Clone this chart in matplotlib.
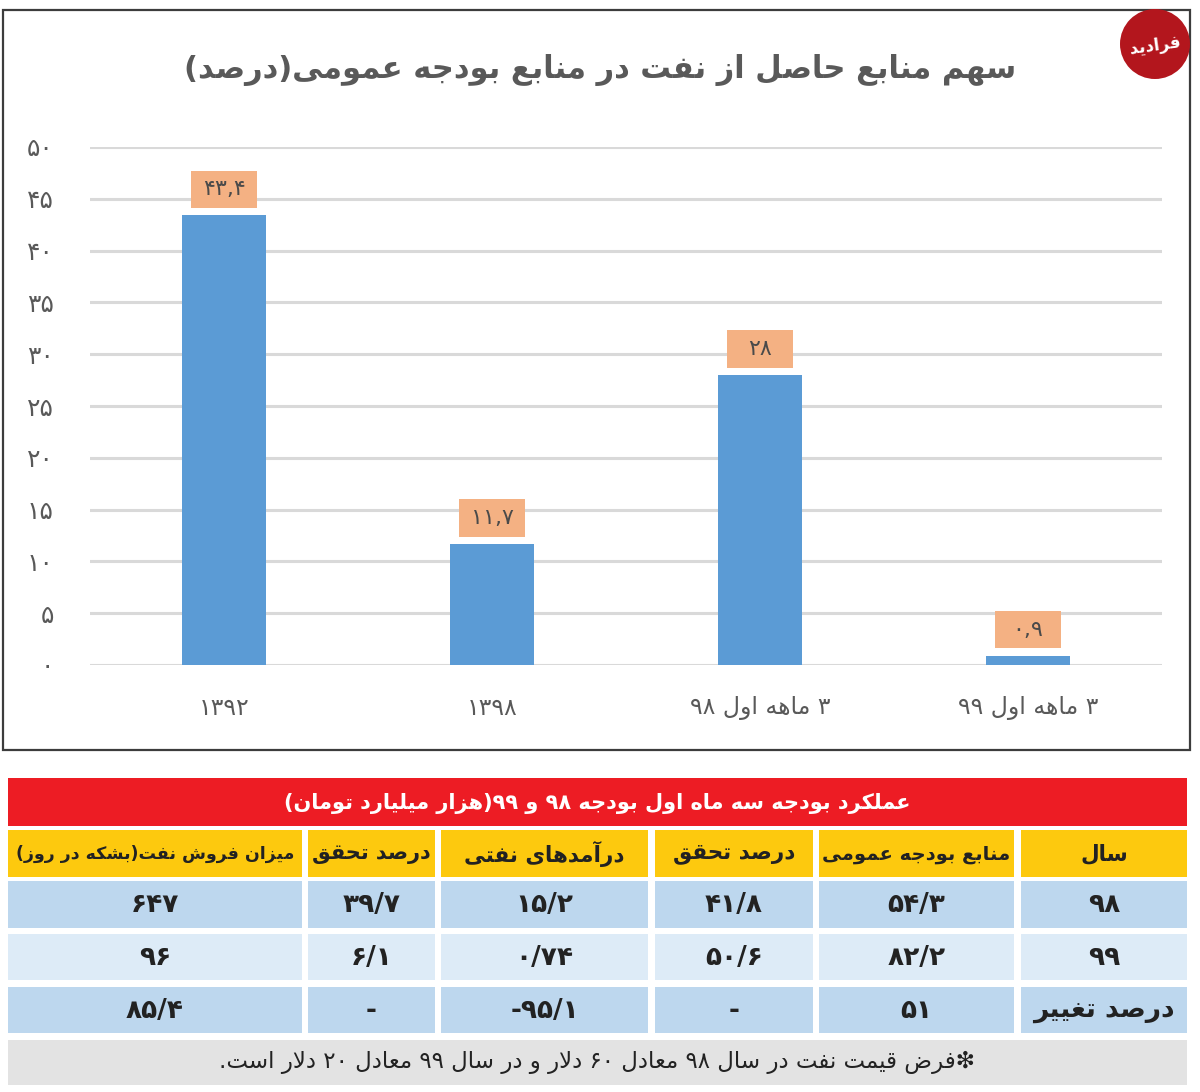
import re
import matplotlib
matplotlib.use("Agg")
import matplotlib.pyplot as plt
from matplotlib.patches import Rectangle, Circle

plt.rcParams['font.family'] = ['DejaVu Sans']

# ---- data ----
title = "سهم منابع حاصل از نفت در منابع بودجه عمومی(درصد)"
periods = ["۱۳۹۲", "۱۳۹۸", "۳ ماهه اول ۹۸", "۳ ماهه اول ۹۹"]
oil_share = [43.4, 11.7, 28, 0.9]

table_title = "عملکرد بودجه سه ماه اول بودجه ۹۸ و ۹۹(هزار میلیارد تومان)"
# columns listed right to left, as in the picture
col_names = ["سال", "منابع بودجه عمومی", "درصد تحقق", "درآمدهای نفتی", "درصد تحقق",
             "میزان فروش نفت(بشکه در روز)"]
row_names = ["۹۸", "۹۹", "درصد تغییر"]
budget = [54.3, 82.2, 51]
budget_pct = [41.8, 50.6, None]
oil_income = [15.2, 0.74, -95.1]
oil_income_pct = [39.7, 6.1, None]
oil_sales = [647, 96, 85.4]
footnote = "❇فرض قیمت نفت در سال ۹۸ معادل ۶۰ دلار و در سال ۹۹ معادل ۲۰ دلار است."

# ---- minimal arabic shaping + rtl ordering (no reshaper lib available) ----
def dual(b):
    return (b, b + 1, b + 2, b + 3)

FORMS = {
    '\u0622': (0xFE81, 0xFE82, None, None), '\u0627': (0xFE8D, 0xFE8E, None, None),
    '\u0628': dual(0xFE8F), '\u067E': dual(0xFB56), '\u062A': dual(0xFE95),
    '\u062B': dual(0xFE99), '\u062C': dual(0xFE9D), '\u0686': dual(0xFB7A),
    '\u062D': dual(0xFEA1), '\u062E': dual(0xFEA5),
    '\u062F': (0xFEA9, 0xFEAA, None, None), '\u0630': (0xFEAB, 0xFEAC, None, None),
    '\u0631': (0xFEAD, 0xFEAE, None, None), '\u0632': (0xFEAF, 0xFEB0, None, None),
    '\u0698': (0xFB8A, 0xFB8B, None, None),
    '\u0633': dual(0xFEB1), '\u0634': dual(0xFEB5), '\u0635': dual(0xFEB9),
    '\u0636': dual(0xFEBD), '\u0637': dual(0xFEC1), '\u0638': dual(0xFEC5),
    '\u0639': dual(0xFEC9), '\u063A': dual(0xFECD), '\u0641': dual(0xFED1),
    '\u0642': dual(0xFED5), '\u06A9': dual(0xFB8E), '\u06AF': dual(0xFB92),
    '\u0644': dual(0xFEDD), '\u0645': dual(0xFEE1), '\u0646': dual(0xFEE5),
    '\u0647': dual(0xFEE9), '\u0648': (0xFEED, 0xFEEE, None, None),
    '\u06CC': dual(0xFBFC),
}
LAM_ALEF = {'\u0627': (0xFEFB, 0xFEFC), '\u0622': (0xFEF5, 0xFEF6)}
NUM = re.compile(r'-?[0-9۰-۹]+(?:[/,.٫][0-9۰-۹]+)*')
MIRROR = str.maketrans('()', ')(')


def shape(s):
    out, i, prev = [], 0, False
    while i < len(s):
        c = s[i]
        if c not in FORMS:
            out.append(c); prev = False; i += 1
            continue
        if c == '\u0644' and i + 1 < len(s) and s[i + 1] in LAM_ALEF:
            iso, fin = LAM_ALEF[s[i + 1]]
            out.append(chr(fin if prev else iso)); prev = False; i += 2
            continue
        f = FORMS[c]
        nxt = s[i + 1] if i + 1 < len(s) else None
        joins = f[2] is not None and nxt in FORMS
        g = f[3] if (prev and joins) else f[1] if prev else f[2] if joins else f[0]
        out.append(chr(g)); prev = joins; i += 1
    return ''.join(out)


def fa(text):
    s = shape(text)
    parts, pos = [], 0
    for m in NUM.finditer(s):
        if m.start() > pos:
            parts.append(s[pos:m.start()][::-1].translate(MIRROR))
        parts.append(m.group())
        pos = m.end()
    if pos < len(s):
        parts.append(s[pos:][::-1].translate(MIRROR))
    return ''.join(reversed(parts))


def fdig(v, sep='/'):
    if v is None:
        return '-'
    t = f"{v:g}".replace('.', sep)
    return t.translate(str.maketrans('0123456789', '۰۱۲۳۴۵۶۷۸۹'))


W, H = 1200, 1092
fig = plt.figure(figsize=(12, 10.92), dpi=100)
renderer = fig.canvas.get_renderer()


def fit(t, maxw):
    # shrink a text until it fits its cell
    while t.get_window_extent(renderer).width > maxw and t.get_fontsize() > 6:
        t.set_fontsize(t.get_fontsize() - 0.5)


ov = fig.add_axes([0, 0, 1, 1], zorder=0)
ov.set_xlim(0, W)
ov.set_ylim(H, 0)
ov.axis('off')

# chart frame + logo
ov.add_patch(Rectangle((3, 10), 1187, 740, fill=False, ec='#3c3c3c', lw=1.6))
ov.add_patch(Circle((1155, 44), 35, fc='#B3161D', ec='none'))
ov.text(1155, 46, fa("فرادید"), color='white', fontsize=12, weight='bold',
        ha='center', va='center', rotation=8)

fig.text(600 / W, 1 - 70 / H, fa(title), ha='center', va='center',
         fontsize=22, color='#595959', weight='bold')

ax = fig.add_axes([90 / W, 1 - 665 / H, (1162 - 90) / W, (665 - 147) / H], zorder=1)
ax.patch.set_alpha(0)
x = range(len(oil_share))
ax.bar(x, oil_share, width=0.313, color='#5B9BD5', zorder=2)
ax.set_xlim(-0.5, 3.5)
ax.set_ylim(0, 50)
ax.set_yticks(range(0, 51, 5))
ax.set_yticklabels([fdig(t) for t in range(0, 51, 5)], fontsize=18, color='#595959')
ax.set_xticks(list(x))
ax.set_xticklabels([fa(p) for p in periods], fontsize=17, color='#595959')
ax.tick_params(axis='y', length=0, pad=26)
ax.tick_params(axis='x', length=0, pad=22)
ax.yaxis.grid(True, color='#D9D9D9', lw=2.2)
ax.set_axisbelow(True)
for s in ax.spines.values():
    s.set_visible(False)

for i, v in enumerate(oil_share):
    ax.add_patch(Rectangle((i - 0.123, v + 0.7), 0.246, 3.6, fc='#F4B183', ec='none',
                           zorder=3, clip_on=False))
    ax.text(i, v + 0.7 + 1.8, fdig(v, ','), ha='center', va='center', fontsize=16,
            color='#4a4a4a', zorder=4)

# ---- table ----
cols_x = [(1021, 1187), (819, 1014), (655, 813), (441, 648), (308, 435), (8, 302)]
row_y = [(881, 928), (934, 980), (987, 1033)]
row_colors = ['#BDD7EE', '#DDEBF7', '#BDD7EE']

ov.add_patch(Rectangle((8, 778), 1179, 48, fc='#ED1C24', ec='none'))
ov.text(597, 803, fa(table_title), color='white', fontsize=15, weight='bold',
        ha='center', va='center')

for (x0, x1), name in zip(cols_x, col_names):
    ov.add_patch(Rectangle((x0, 830), x1 - x0, 47, fc='#FDC90E', ec='none'))
    t = ov.text((x0 + x1) / 2, 854, fa(name), fontsize=15.5, weight='bold', color='#222222',
                ha='center', va='center')
    fit(t, x1 - x0 - 6)

columns = [row_names,
           [fdig(v) for v in budget],
           [fdig(v) for v in budget_pct],
           [fdig(v) for v in oil_income],
           [fdig(v) for v in oil_income_pct],
           [fdig(v) for v in oil_sales]]

for r, ((y0, y1), rc) in enumerate(zip(row_y, row_colors)):
    for c, (x0, x1) in enumerate(cols_x):
        ov.add_patch(Rectangle((x0, y0), x1 - x0, y1 - y0, fc=rc, ec='none'))
        ov.text((x0 + x1) / 2, (y0 + y1) / 2 + 1, fa(columns[c][r]), fontsize=19,
                weight='bold', color='#222222', ha='center', va='center')

ov.add_patch(Rectangle((8, 1040), 1179, 45, fc='#E3E3E3', ec='none'))
ov.text(597, 1062, fa(footnote), fontsize=16.5, color='#222222', ha='center', va='center')

fig.savefig("out.png", dpi=100)
